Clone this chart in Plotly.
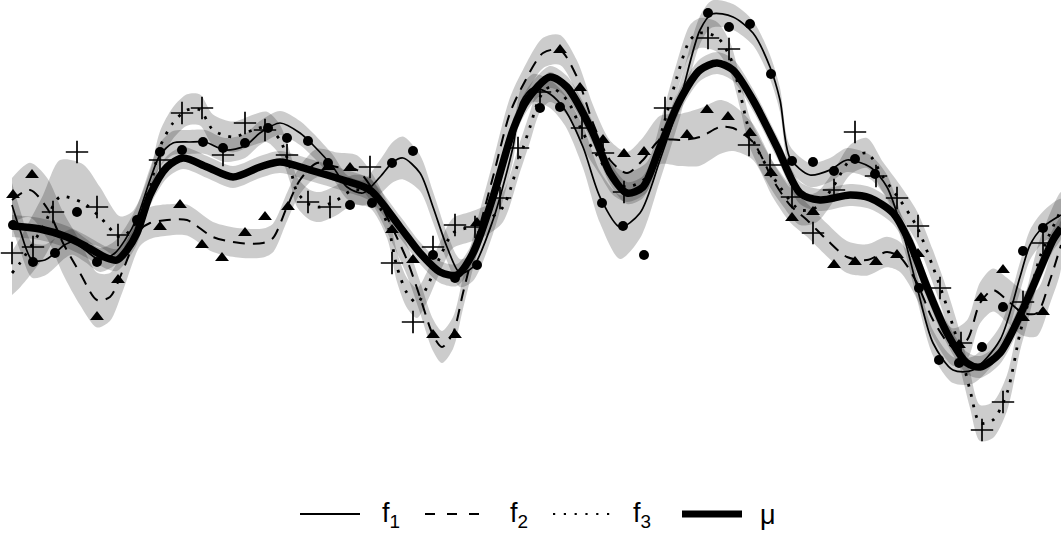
import numpy as np
import plotly.graph_objects as go

# ---- data (x in px-units, y in px-units, y downward) ----
f1_x = [12, 20, 32, 45, 55, 63, 72, 85, 100, 115, 125, 137, 150, 160, 173, 190, 205, 225, 245, 260, 280, 300, 313, 333, 347, 363, 380, 393, 403, 420, 433, 447, 460, 473, 493, 513, 521, 533, 550, 565, 583, 600, 620, 640, 660, 680, 700, 712, 733, 753, 770, 780, 790, 810, 830, 847, 870, 887, 903, 917, 933, 953, 973, 1000, 1020, 1030, 1043, 1061]
f1_y = [205, 230, 260, 260, 253, 246, 242, 250, 260, 253, 240, 218, 180, 155, 143, 142, 142, 150, 146, 133, 123, 133, 145, 167, 187, 193, 177, 162, 158, 173, 207, 247, 273, 267, 220, 147, 102, 88, 94, 110, 147, 197, 227, 213, 160, 100, 30, 14, 17, 33, 67, 100, 158, 175, 170, 160, 167, 187, 233, 287, 343, 370, 370, 340, 277, 245, 227, 215]
f1_pts_x = [13, 33, 55, 77, 97, 137, 160, 182, 203, 223, 245, 268, 287, 308, 328, 350, 372, 392, 413, 433, 455, 477, 540, 560, 602, 623, 644, 708, 729, 750, 771, 792, 813, 834, 855, 875, 919, 939, 959, 982, 1003, 1023, 1043]
f1_pts_y = [225, 262, 253, 212, 262, 220, 152, 150, 142, 148, 143, 128, 138, 141, 163, 205, 203, 163, 151, 255, 278, 265, 108, 107, 203, 226, 255, 13, 27, 24, 74, 161, 162, 171, 159, 174, 288, 360, 363, 347, 307, 251, 228]

f2_x = [12, 30, 47, 63, 80, 97, 110, 123, 140, 150, 167, 187, 213, 240, 263, 273, 287, 300, 317, 337, 357, 373, 390, 407, 420, 433, 442, 453, 463, 477, 493, 510, 523, 543, 560, 577, 593, 610, 627, 643, 660, 680, 700, 720, 733, 753, 773, 790, 807, 827, 847, 867, 887, 900, 917, 933, 953, 967, 980, 993, 1007, 1023, 1037, 1050, 1061]
f2_y = [200, 190, 208, 243, 273, 300, 297, 270, 230, 223, 220, 220, 237, 243, 243, 238, 207, 180, 163, 167, 170, 190, 223, 260, 297, 335, 347, 333, 293, 237, 177, 113, 85, 53, 50, 77, 123, 160, 173, 160, 140, 140, 137, 127, 128, 142, 180, 205, 220, 240, 257, 260, 252, 257, 283, 320, 347, 340, 303, 290, 300, 313, 313, 280, 245]
f2_pts_x = [13, 32, 97, 118, 160, 180, 202, 222, 245, 265, 288, 328, 350, 392, 413, 433, 455, 477, 560, 580, 603, 624, 644, 687, 707, 728, 750, 771, 792, 813, 834, 855, 876, 897, 918, 959, 981, 1003, 1023, 1043]
f2_pts_y = [195, 175, 317, 280, 227, 205, 245, 258, 233, 217, 207, 167, 168, 230, 260, 335, 335, 223, 50, 88, 140, 154, 152, 135, 110, 117, 133, 173, 218, 212, 265, 262, 262, 255, 254, 345, 298, 270, 318, 312]

f3_x = [12, 20, 43, 60, 83, 100, 120, 133, 150, 160, 173, 187, 200, 213, 233, 253, 267, 280, 290, 297, 310, 320, 337, 353, 370, 387, 397, 407, 417, 427, 440, 453, 470, 487, 503, 520, 530, 540, 550, 567, 583, 600, 613, 627, 647, 663, 677, 690, 700, 717, 730, 740, 750, 767, 780, 800, 817, 833, 850, 867, 883, 900, 917, 933, 947, 960, 970, 980, 993, 1007, 1020, 1027, 1040, 1061]
f3_y = [273, 263, 227, 197, 203, 217, 237, 227, 187, 147, 123, 110, 110, 130, 137, 130, 127, 140, 167, 192, 205, 207, 200, 190, 193, 223, 267, 293, 303, 287, 257, 233, 227, 220, 207, 157, 127, 97, 87, 100, 133, 160, 180, 187, 177, 127, 77, 40, 33, 37, 57, 93, 133, 167, 187, 210, 207, 187, 160, 153, 177, 200, 227, 267, 307, 350, 390, 423, 420, 393, 333, 307, 257, 210]
f3_pts_x = [12, 33, 53, 77, 97, 118, 160, 182, 202, 223, 245, 265, 287, 308, 330, 370, 392, 413, 433, 455, 475, 500, 518, 540, 582, 603, 624, 665, 708, 729, 749, 770, 792, 813, 834, 855, 876, 897, 918, 940, 961, 982, 1003, 1023, 1043]
f3_pts_y = [253, 247, 212, 152, 207, 235, 160, 113, 108, 155, 123, 130, 155, 202, 207, 167, 263, 322, 247, 225, 227, 198, 148, 92, 128, 153, 192, 108, 38, 49, 145, 165, 197, 233, 190, 132, 176, 198, 226, 288, 343, 430, 402, 302, 243]

mu_x = [12, 40, 67, 87, 107, 117, 127, 137, 150, 167, 183, 207, 233, 260, 280, 310, 343, 370, 400, 420, 440, 457, 473, 493, 513, 527, 550, 567, 593, 610, 627, 643, 660, 680, 700, 717, 733, 753, 777, 800, 820, 850, 870, 893, 910, 927, 947, 967, 980, 1000, 1027, 1053, 1061]
mu_y = [226, 229, 237, 247, 258, 260, 250, 233, 195, 167, 158, 167, 177, 167, 162, 170, 180, 190, 227, 253, 272, 275, 253, 197, 130, 100, 77, 87, 133, 173, 193, 187, 147, 100, 70, 63, 70, 100, 147, 193, 200, 195, 198, 213, 243, 287, 333, 363, 367, 353, 300, 240, 228]

# band half-widths (px) at knots
f1_bw_x = [12, 40, 80, 150, 360, 400, 440, 560, 620, 650, 700, 760, 900, 1000, 1061]
f1_bw = [22, 16, 12, 12, 12, 22, 14, 14, 32, 22, 14, 12, 12, 14, 16]
f2_bw_x = [12, 40, 80, 110, 140, 300, 440, 560, 680, 710, 750, 900, 1000, 1061]
f2_bw = [22, 30, 32, 24, 16, 14, 16, 15, 26, 30, 18, 15, 22, 24]
f3_bw_x = [12, 50, 77, 100, 130, 300, 420, 560, 900, 960, 990, 1061]
f3_bw = [22, 34, 42, 30, 16, 15, 15, 15, 15, 18, 18, 18]
mu_bw_x = [12, 1061]
mu_bw = [11, 11]

fig = go.Figure()

def band(xs, ys, kx, kw):
    xs = np.array(xs, float); ys = np.array(ys, float)
    w = np.interp(xs, kx, kw)
    px = list(xs) + list(xs[::-1])
    py = list(ys - w) + list((ys + w)[::-1])
    fig.add_trace(go.Scatter(x=px, y=py, fill="toself", mode="lines",
                             line=dict(width=0, shape="spline", smoothing=0.8),
                             fillcolor="rgba(0,0,0,0.2)", hoverinfo="skip", showlegend=False))

band(f1_x, f1_y, f1_bw_x, f1_bw)
band(f2_x, f2_y, f2_bw_x, f2_bw)
band(f3_x, f3_y, f3_bw_x, f3_bw)
band(mu_x, mu_y, mu_bw_x, mu_bw)

fig.add_trace(go.Scatter(x=f1_x, y=f1_y, mode="lines", line=dict(color="black", width=1.7, shape="spline", smoothing=0.8), showlegend=False))
fig.add_trace(go.Scatter(x=f2_x, y=f2_y, mode="lines", line=dict(color="black", width=2, dash="12px,8px", shape="spline", smoothing=0.8), showlegend=False))
fig.add_trace(go.Scatter(x=f3_x, y=f3_y, mode="lines", line=dict(color="black", width=2.8, dash="2.8px,8px", shape="spline", smoothing=0.8), showlegend=False))
fig.add_trace(go.Scatter(x=mu_x, y=mu_y, mode="lines", line=dict(color="black", width=7.5, shape="spline", smoothing=0.8), showlegend=False))

fig.add_trace(go.Scatter(x=f1_pts_x, y=f1_pts_y, mode="markers", marker=dict(symbol="circle", size=10, color="black"), showlegend=False))
fig.add_trace(go.Scatter(x=f2_pts_x, y=f2_pts_y, mode="markers", marker=dict(symbol="triangle-up", size=12, color="black"), showlegend=False))
fig.add_trace(go.Scatter(x=f3_pts_x, y=f3_pts_y, mode="markers", marker=dict(symbol="cross-thin-open", size=16, color="black", line=dict(color="black", width=1.7)), showlegend=False))

# ---- manual legend ----
W, PH = 1061, 460
def px2x(p): return p / W
def py2y(p): return (PH - p) / PH
ly = 514
legend_items = [
    (300, 360, dict(color="black", width=1.8), "f<sub>1</sub>", 380),
    (425, 483, dict(color="black", width=2, dash="10px,12px"), "f<sub>2</sub>", 508),
    (553, 610, dict(color="black", width=2.2, dash="2.2px,8.6px"), "f<sub>3</sub>", 631),
    (682, 742, dict(color="black", width=7), "μ", 758),
]
shapes = []
annotations = []
for x0, x1, ln, txt, tx in legend_items:
    shapes.append(dict(type="line", xref="paper", yref="paper", x0=px2x(x0), x1=px2x(x1),
                       y0=py2y(ly), y1=py2y(ly), line=ln))
    annotations.append(dict(text=txt, xref="paper", yref="paper", x=px2x(tx), y=py2y(ly + 1),
                            xanchor="left", yanchor="middle", showarrow=False,
                            font=dict(family="Liberation Sans, Arial", size=27, color="black")))

fig.update_layout(
    width=1061, height=533,
    margin=dict(l=0, r=0, t=0, b=73),
    paper_bgcolor="white", plot_bgcolor="white",
    xaxis=dict(range=[0, 1061], visible=False),
    yaxis=dict(range=[460, 0], visible=False),
    shapes=shapes, annotations=annotations, showlegend=False,
)
fig.write_html("out.html", config={"displayModeBar": False},
               post_script="document.body.style.margin='0';document.body.style.overflow='hidden';")
